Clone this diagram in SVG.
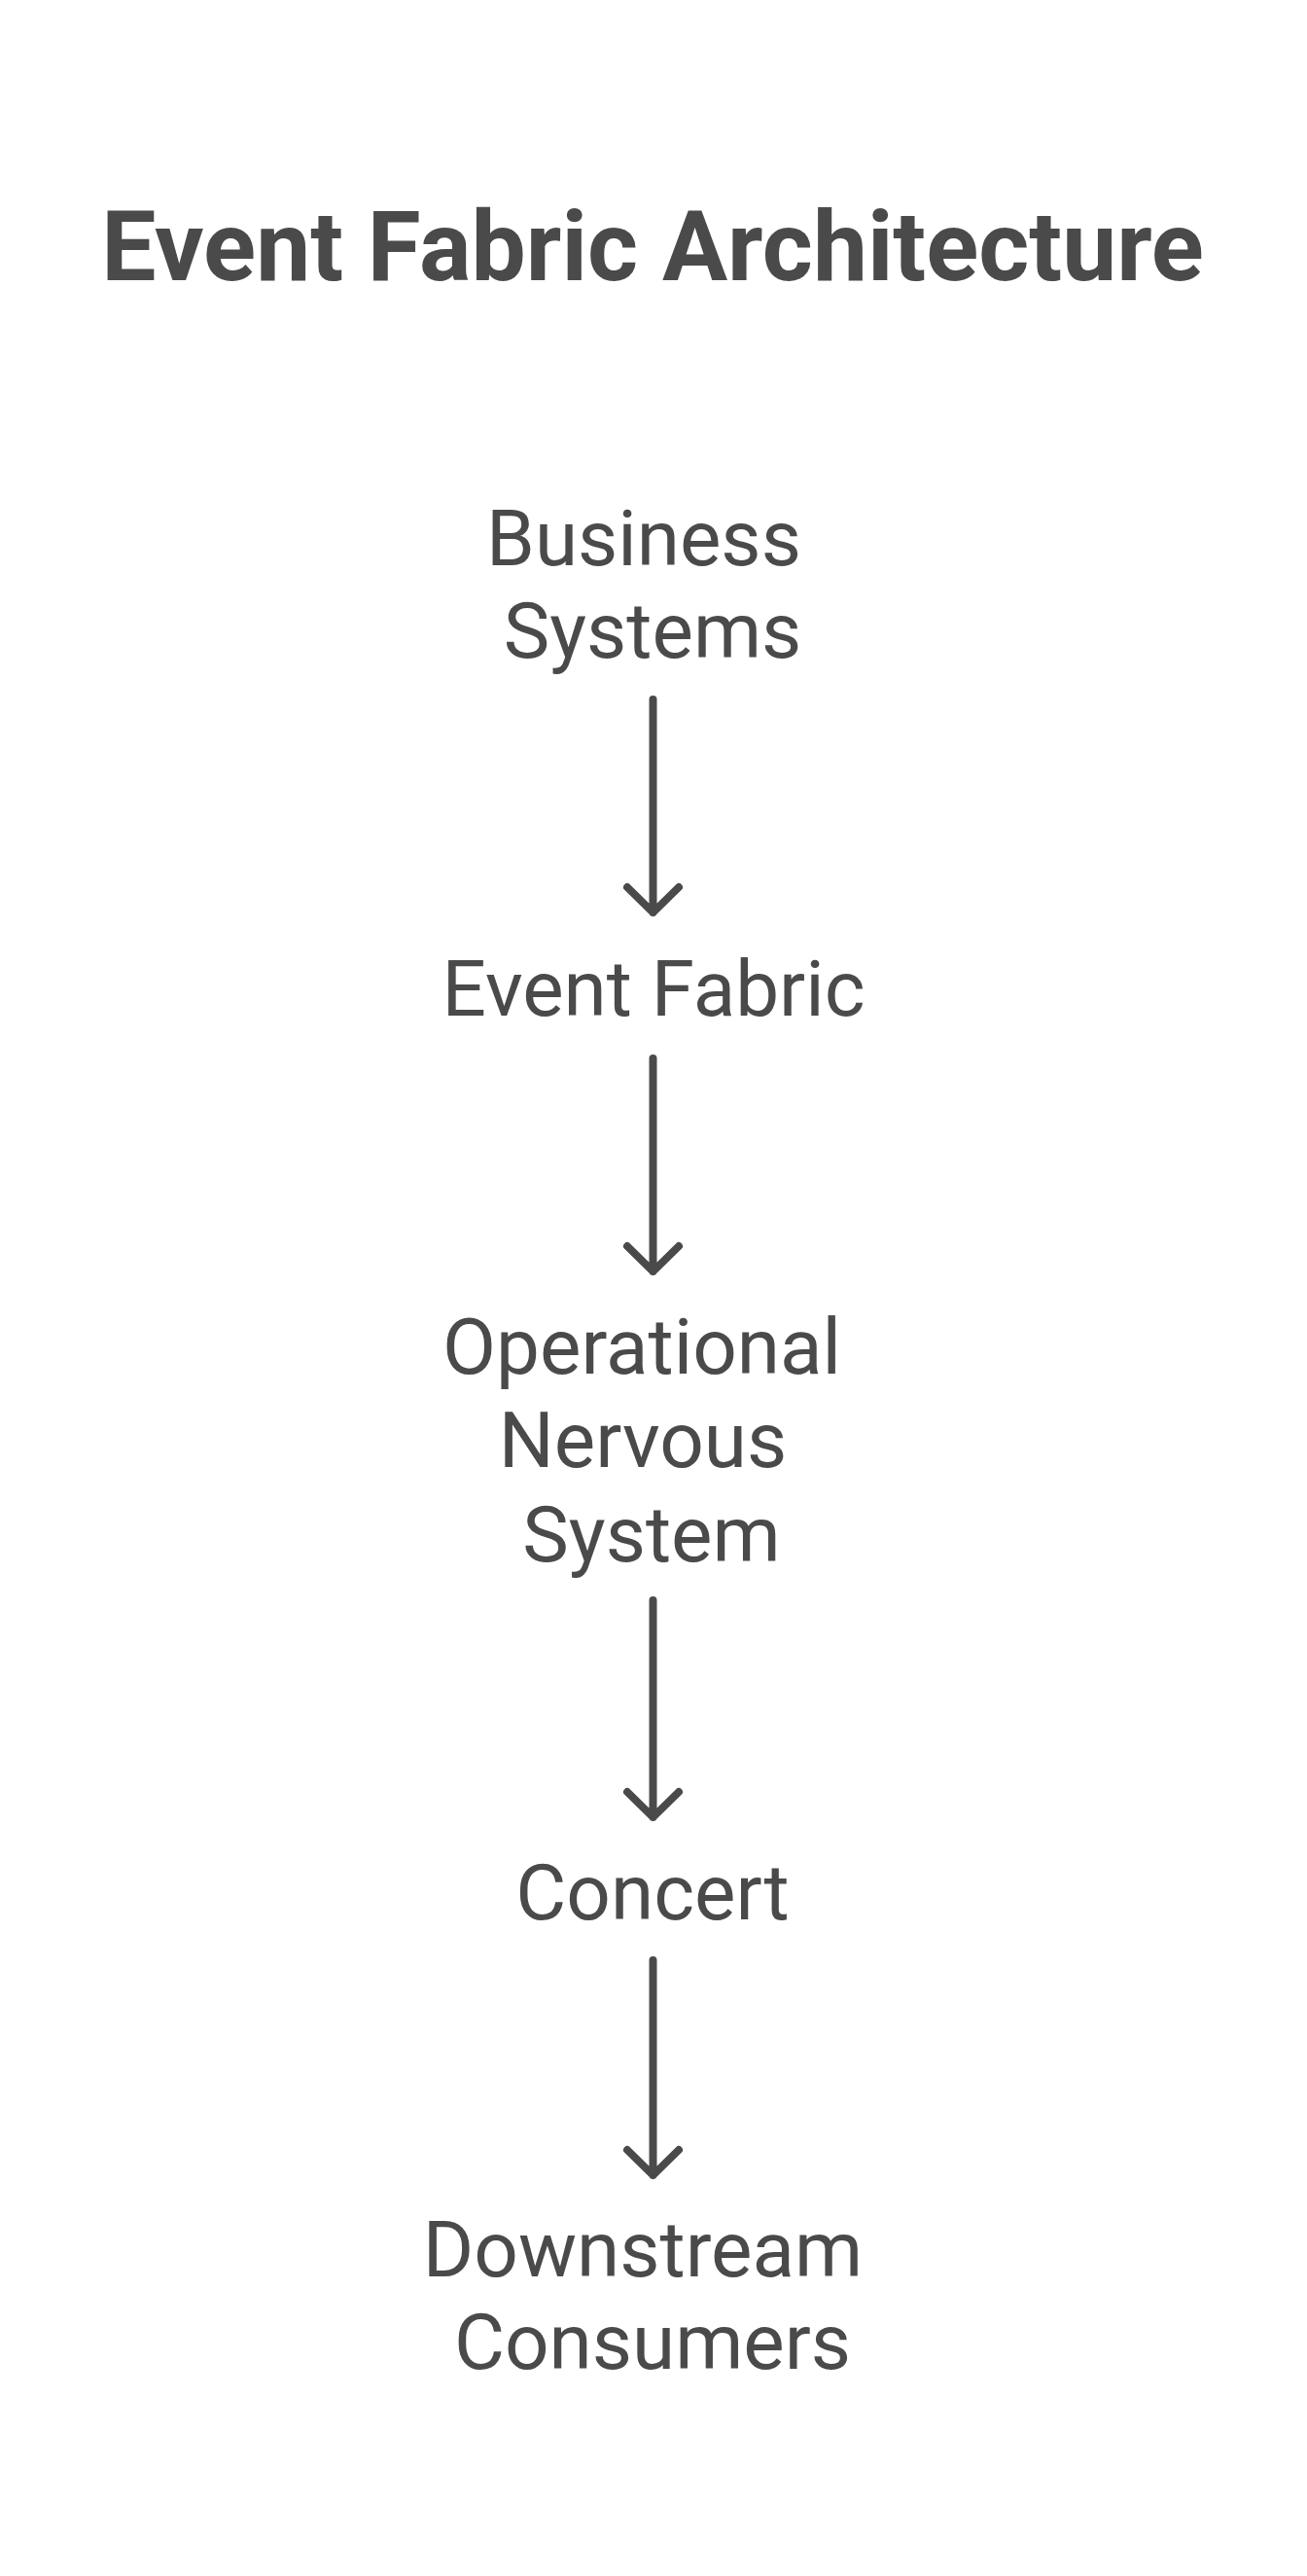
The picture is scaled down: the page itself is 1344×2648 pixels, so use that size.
<svg xmlns="http://www.w3.org/2000/svg" width="1344" height="2648" viewBox="0 0 1344 2648">
<style>
.t{font-family:Roboto,"Liberation Sans",sans-serif;fill:#4a4a4a;text-anchor:middle}
.title{font-size:100px;font-weight:700}
.lbl{font-size:80px;font-weight:400}
.c{fill:none;stroke:#4a4a4a;stroke-width:8;stroke-linecap:round;stroke-linejoin:round}
</style>
<rect width="1344" height="2648" fill="#ffffff"/>
<text class="t title" x="671" y="288">Event Fabric Architecture</text>
<g id="node-business-systems">
<text class="t lbl" x="662" y="581">Business</text>
<text class="t lbl" x="671" y="676">Systems</text>
</g>
<g id="node-event-fabric">
<text class="t lbl" x="672" y="1044">Event Fabric</text>
</g>
<g id="node-operational-nervous-system">
<text class="t lbl" x="660" y="1412">Operational</text>
<text class="t lbl" x="661" y="1508">Nervous</text>
<text class="t lbl" x="670" y="1605">System</text>
</g>
<g id="node-concert">
<text class="t lbl" x="671" y="1973">Concert</text>
</g>
<g id="node-downstream-consumers">
<text class="t lbl" x="661" y="2340">Downstream</text>
<text class="t lbl" x="671" y="2435">Consumers</text>
</g>
<g id="connectors">
<path class="c" d="M671.5 719V938M645 912L671.5 938L698 912"/>
<path class="c" d="M671.5 1088V1307M645 1281L671.5 1307L698 1281"/>
<path class="c" d="M671.5 1645V1868M645 1842L671.5 1868L698 1842"/>
<path class="c" d="M671.5 2015V2236M645 2210L671.5 2236L698 2210"/>
</g>
</svg>
